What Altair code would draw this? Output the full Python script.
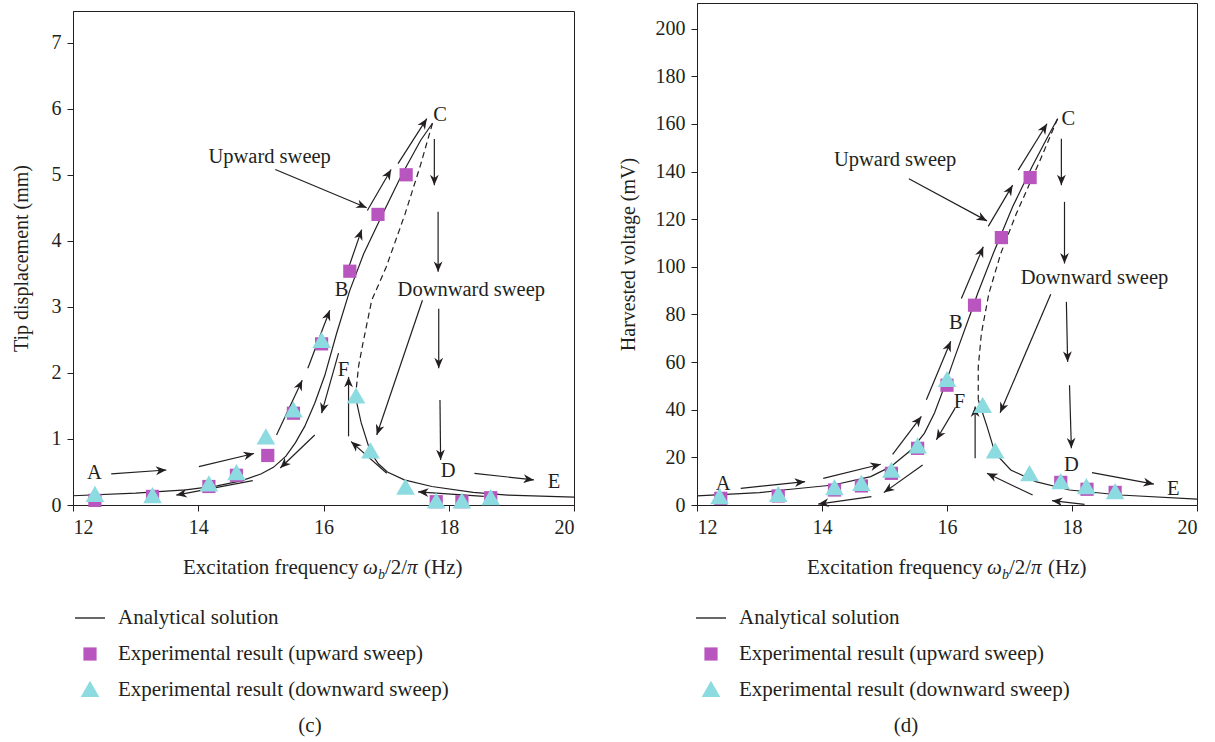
import math
import altair as alt
import pandas as pd

FONT = "Liberation Serif"
INK = "#231f20"

SERIES = ["Analytical solution",
          "Experimental result (upward sweep)",
          "Experimental result (downward sweep)"]
SERIES_COLORS = [INK, "#b955be", "#8bdbe0"]
# all glyphs are drawn at one symbol size (900 -> 30 px box); the paths set their extent
LINE_GLYPH = "M-1,-0.045L1,-0.045L1,0.045L-1,0.045Z"
SQUARE_GLYPH = "M-0.44,-0.44L0.44,-0.44L0.44,0.44L-0.44,0.44Z"
TRIANGLE_GLYPH = "M0,-0.62L0.62,0.46L-0.62,0.46Z"
SERIES_SHAPES = [LINE_GLYPH, SQUARE_GLYPH, TRIANGLE_GLYPH]
ARROW_GLYPH = "M0,0L0.42,1L0,0.7L-0.42,1Z"

X_TICKS = [12, 14, 16, 18, 20]

# ---------------- panel (c): tip displacement (mm) ----------------
c_y_ticks = [0, 1, 2, 3, 4, 5, 6, 7]
c_upper_x = [12.0, 13.0, 13.8, 14.3, 14.7, 15.0, 15.2, 15.4, 15.55, 15.7, 15.86, 16.02, 16.21, 16.42, 16.64, 16.94, 17.25, 17.55, 17.74]
c_upper_y = [0.14, 0.18, 0.23, 0.29, 0.37, 0.47, 0.57, 0.74, 0.94, 1.19, 1.54, 1.96, 2.6, 3.25, 3.8, 4.4, 5.0, 5.52, 5.78]
c_dash_x = [17.74, 17.55, 17.3, 17.0, 16.77, 16.63, 16.56, 16.51]
c_dash_y = [5.78, 5.15, 4.4, 3.6, 3.1, 2.45, 2.1, 1.64]
c_lower_x = [16.51, 16.6, 16.75, 16.88, 17.02, 17.29, 17.73, 18.39, 18.94, 20.0]
c_lower_y = [1.64, 1.25, 0.8, 0.62, 0.5, 0.38, 0.28, 0.19, 0.15, 0.12]
c_sq_x = [12.35, 13.27, 14.17, 14.61, 15.11, 15.52, 15.97, 16.42, 16.87, 17.32, 17.80, 18.21, 18.67]
c_sq_y = [0.07, 0.13, 0.28, 0.45, 0.75, 1.39, 2.44, 3.54, 4.40, 5.00, 0.05, 0.05, 0.11]
c_tri_x = [12.35, 13.27, 14.17, 14.61, 15.08, 15.52, 15.97, 16.52, 16.75, 17.31, 17.80, 18.21, 18.67]
c_tri_y = [0.15, 0.13, 0.31, 0.48, 1.02, 1.43, 2.48, 1.64, 0.81, 0.26, 0.05, 0.05, 0.10]
c_arrows = [
    (12.61, 0.47, 13.49, 0.53), (14.01, 0.58, 14.89, 0.78), (15.25, 1.06, 15.66, 1.89),
    (15.75, 2.07, 16.10, 2.95), (16.36, 3.48, 16.61, 4.17), (16.70, 4.46, 17.08, 5.08),
    (17.19, 5.17, 17.65, 5.85), (14.87, 0.37, 13.65, 0.15), (15.86, 1.06, 15.31, 0.56),
    (16.24, 2.30, 15.97, 1.39), (16.40, 1.04, 16.40, 1.94), (17.01, 0.48, 16.44, 0.96),
    (18.56, 0.13, 17.51, 0.20), (17.77, 5.54, 17.77, 4.84), (17.83, 4.44, 17.83, 3.53),
    (17.84, 2.97, 17.84, 2.07), (17.86, 1.59, 17.87, 0.68), (18.41, 0.48, 19.36, 0.38),
    (15.23, 5.08, 16.69, 4.50), (17.58, 3.10, 16.85, 1.06),
]
c_labels = ["A", "B", "C", "D", "E", "F", "Upward sweep", "Downward sweep"]
c_label_x = [12.34, 16.29, 17.86, 17.99, 19.68, 16.32, 15.14, 18.36]
c_label_y = [0.48, 3.26, 5.90, 0.52, 0.35, 2.04, 5.27, 3.26]

# ---------------- panel (d): harvested voltage (mV) ----------------
d_y_ticks = [0, 20, 40, 60, 80, 100, 120, 140, 160, 180, 200]
d_upper_x = [12.0, 13.0, 13.38, 14.18, 14.78, 15.10, 15.43, 15.64, 15.80, 15.96, 16.13, 16.40, 16.49, 16.74, 17.05, 17.36, 17.61, 17.77]
d_upper_y = [3.8, 5.2, 6.3, 8.4, 11.9, 16.1, 23.2, 30.2, 38.6, 49.8, 62.5, 82.1, 88.8, 105.6, 125.2, 142.0, 154.5, 162.2]
d_dash_x = [17.77, 17.49, 17.11, 16.86, 16.67, 16.55, 16.50, 16.50]
d_dash_y = [162.2, 144.8, 122.4, 105.6, 88.8, 72.0, 58.0, 44.2]
d_lower_x = [16.50, 16.64, 16.77, 17.02, 17.42, 17.96, 18.77, 20.0]
d_lower_y = [44.2, 33.0, 21.8, 14.7, 9.8, 6.3, 4.2, 2.5]
d_sq_x = [12.38, 13.30, 14.20, 14.63, 15.11, 15.53, 16.0, 16.44, 16.87, 17.33, 17.82, 18.24, 18.69]
d_sq_y = [2.8, 3.8, 6.3, 8.0, 13.3, 23.8, 50.3, 83.9, 112.3, 137.5, 9.5, 6.6, 5.3]
d_tri_x = [12.36, 13.30, 14.20, 14.63, 15.11, 15.53, 16.0, 16.57, 16.77, 17.32, 17.82, 18.23, 18.69]
d_tri_y = [3.2, 4.2, 7.0, 8.8, 14.3, 24.5, 52.4, 41.5, 22.4, 12.9, 9.5, 7.4, 5.3]
d_arrows = [
    (12.70, 7.0, 13.73, 9.8), (14.02, 11.2, 14.94, 17.1), (15.13, 21.3, 15.59, 37.2),
    (15.67, 44.2, 16.06, 68.8), (16.23, 86.7, 16.58, 108.4), (16.66, 117.0, 17.05, 134.3),
    (17.14, 140.6, 17.60, 160.1), (14.79, 3.5, 13.94, 0.4), (15.61, 16.8, 14.99, 5.2),
    (16.13, 40.7, 15.83, 27.4), (16.45, 19.6, 16.45, 41.4), (17.37, 4.2, 16.64, 13.3),
    (18.20, 0.3, 17.68, 1.8), (17.83, 153.8, 17.83, 134.3), (17.88, 127.3, 17.88, 101.4),
    (17.91, 85.3, 17.93, 60.1), (17.96, 50.3, 17.99, 23.8), (18.32, 13.6, 19.31, 8.8),
    (15.39, 137.0, 16.64, 119.3), (17.66, 88.5, 16.85, 38.7),
]
d_labels = ["A", "B", "C", "D", "E", "F", "Upward sweep", "Downward sweep"]
d_label_x = [12.42, 16.14, 17.94, 17.99, 19.62, 16.20, 15.17, 18.36]
d_label_y = [8.7, 76.5, 162.0, 17.0, 6.6, 43.4, 144.8, 95.5]


def make_panel(up_x, up_y, lo_x, lo_y, da_x, da_y, sq_x, sq_y, tr_x, tr_y,
               arrows, labels, lab_x, lab_y, W, H, ymax, yticks, ytitle,
               title_pad, caption, cap_x, leg_x, leg_y):
    sx = W / 8.0
    sy = H / ymax
    xs = alt.Scale(domain=[12, 20], nice=False, zero=False)
    ys = alt.Scale(domain=[0, ymax], nice=False, zero=False)
    xaxis = alt.Axis(values=X_TICKS, title=None, format="d")
    yaxis = alt.Axis(values=yticks, title=ytitle, titlePadding=title_pad, format="d")
    xenc = alt.X("x:Q", scale=xs, axis=xaxis)
    yenc = alt.Y("y:Q", scale=ys, axis=yaxis)

    solid = pd.DataFrame({
        "x": up_x + lo_x, "y": up_y + lo_y,
        "seg": ["up"] * len(up_x) + ["lo"] * len(lo_x),
        "o": list(range(len(up_x))) + list(range(len(lo_x))),
    })
    dashed = pd.DataFrame({"x": da_x, "y": da_y, "o": list(range(len(da_x)))})

    rows = []
    for (x1, y1, x2, y2) in arrows:
        ang = math.degrees(math.atan2((x2 - x1) * sx, (y2 - y1) * sy)) % 360
        rows.append({"x": x1, "y": y1, "xe": x2, "ye": y2, "ang": ang})
    arr = pd.DataFrame(rows)

    pts = pd.DataFrame({
        "x": sq_x + tr_x, "y": sq_y + tr_y,
        "series": [SERIES[1]] * len(sq_x) + [SERIES[2]] * len(tr_x),
    })
    labs = pd.DataFrame({"x": lab_x, "y": lab_y, "t": labels})

    legend = alt.Legend(title=None, orient="none", legendX=leg_x, legendY=leg_y,
                        direction="vertical", labelFont=FONT, labelFontSize=21,
                        labelColor=INK, labelLimit=600, padding=0, rowPadding=11,
                        labelOffset=13, symbolStrokeWidth=0, symbolOpacity=1,
                        symbolSize=900)

    lines = alt.Chart(solid).mark_line(strokeWidth=1.2, color=INK).encode(
        x=xenc, y=yenc, detail="seg:N", order="o:Q")
    dash = alt.Chart(dashed).mark_line(strokeWidth=1.2, strokeDash=[6, 4], color=INK).encode(
        x=xenc, y=yenc, order="o:Q")
    shafts = alt.Chart(arr).mark_rule(strokeWidth=1.2, color=INK).encode(
        x=xenc, y=yenc, x2=alt.X2("xe:Q"), y2=alt.Y2("ye:Q"))
    heads = alt.Chart(arr).mark_point(shape=ARROW_GLYPH, filled=True, size=440, color=INK,
                                      opacity=1, strokeWidth=0).encode(
        x=alt.X("xe:Q", scale=xs, axis=xaxis), y=alt.Y("ye:Q", scale=ys, axis=yaxis),
        angle=alt.Angle("ang:Q", scale=None))
    texts = alt.Chart(labs).mark_text(font=FONT, fontSize=20.5, color=INK).encode(
        x=xenc, y=yenc, text="t:N")
    points = alt.Chart(pts).mark_point(filled=True, opacity=1, strokeWidth=0, size=900).encode(
        x=xenc, y=yenc,
        color=alt.Color("series:N", scale=alt.Scale(domain=SERIES, range=SERIES_COLORS), legend=legend),
        shape=alt.Shape("series:N", scale=alt.Scale(domain=SERIES, range=SERIES_SHAPES), legend=legend))

    layers = [lines, dash, shafts, heads, texts, points]

    # x-axis title with subscript, built from text pieces
    x0 = 110
    base = H + 69
    pieces = [
        ("Excitation frequency", x0, base, 21, "normal"),
        ("ω", x0 + 180, base, 21, "italic"),
        ("b", x0 + 195, base + 5, 14, "italic"),
        ("/2/", x0 + 202, base, 21, "normal"),
        ("π", x0 + 224, base, 21, "italic"),
        ("(Hz)", x0 + 241, base, 21, "normal"),
    ]
    for (txt, px, py, fs, st) in pieces:
        layers.append(alt.Chart(pd.DataFrame({"t": [txt]})).mark_text(
            font=FONT, fontSize=fs, fontStyle=st, color=INK, align="left",
            baseline="alphabetic").encode(x=alt.value(px), y=alt.value(py), text="t:N"))
    layers.append(alt.Chart(pd.DataFrame({"t": [caption]})).mark_text(
        font=FONT, fontSize=21, color=INK, align="center", baseline="alphabetic").encode(
        x=alt.value(cap_x), y=alt.value(H + 227), text="t:N"))

    return alt.layer(*layers).properties(width=W, height=H)


left = make_panel(c_upper_x, c_upper_y, c_lower_x, c_lower_y, c_dash_x, c_dash_y,
                  c_sq_x, c_sq_y, c_tri_x, c_tri_y, c_arrows, c_labels, c_label_x, c_label_y,
                  W=501, H=494, ymax=7.48, yticks=c_y_ticks, ytitle="Tip displacement (mm)",
                  title_pad=20, caption="(c)", cap_x=237, leg_x=2, leg_y=600)
right = make_panel(d_upper_x, d_upper_y, d_lower_x, d_lower_y, d_dash_x, d_dash_y,
                   d_sq_x, d_sq_y, d_tri_x, d_tri_y, d_arrows, d_labels, d_label_x, d_label_y,
                   W=500, H=502, ymax=210.8, yticks=d_y_ticks, ytitle="Harvested voltage (mV)",
                   title_pad=17, caption="(d)", cap_x=209, leg_x=-1, leg_y=600)

# invisible spacer that drops panel (c) slightly below panel (d), as in the figure
spacer = alt.Chart(pd.DataFrame({"v": [0]})).mark_point(opacity=0, size=0).encode(
    x=alt.value(0), y=alt.value(0)
).properties(width=1, height=1, view=alt.ViewBackground(stroke="transparent"))
left_col = alt.vconcat(spacer, left, spacing=5)

chart = alt.hconcat(left_col, right, spacing=40).resolve_scale(
    x="independent", y="independent", color="independent", shape="independent"
).resolve_legend(color="independent", shape="independent").properties(
    padding={"left": 10, "top": 2, "right": 5, "bottom": 5}
).configure_view(stroke=INK, strokeWidth=1).configure_axis(
    labelFont=FONT, labelFontSize=20, labelColor=INK, titleFont=FONT, titleFontSize=20,
    titleFontWeight="normal", titleColor=INK, tickColor=INK, domainColor=INK, tickSize=6,
    labelPadding=6, grid=False, domainWidth=1, tickWidth=1
)

chart.save("out.html", embed_options={"renderer": "svg", "actions": False})
